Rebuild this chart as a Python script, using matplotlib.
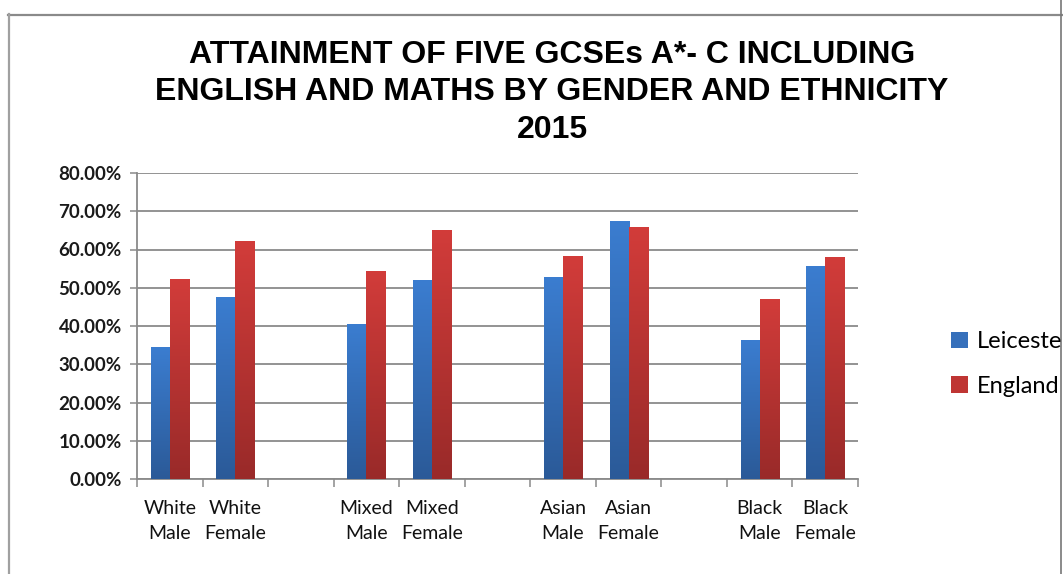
import numpy as np
import matplotlib.pyplot as plt
from matplotlib import font_manager
from matplotlib.colors import LinearSegmentedColormap
from matplotlib.lines import Line2D
from matplotlib.patches import Patch

# Chart data
groups = ["White\nMale", "White\nFemale", "Mixed\nMale", "Mixed\nFemale",
          "Asian\nMale", "Asian\nFemale", "Black\nMale", "Black\nFemale"]
slots = [0, 1, 3, 4, 6, 7, 9, 10]   # empty slot between ethnic groups
leicester = [0.345, 0.475, 0.405, 0.520, 0.527, 0.674, 0.363, 0.558]
england = [0.524, 0.621, 0.544, 0.651, 0.582, 0.660, 0.470, 0.581]
series_names = ["Leicester", "England"]

W, H = 1063, 574
available = {f.name for f in font_manager.fontManager.ttflist}
TITLE_FONT = ["Liberation Sans Narrow", "Liberation Sans", "DejaVu Sans"]
TITLE_FONT = [f for f in TITLE_FONT if f in available] or ["DejaVu Sans"]
BODY_FONT = "Lato"
GRID = "#8a8a8a"

fig = plt.figure(figsize=(W / 100, H / 100), dpi=100)
ax = fig.add_axes([137 / W, 1 - 479 / H, (858 - 137) / W, (479 - 173) / H])

bar_w = 0.29
x = np.array(slots, dtype=float)
blue_cm = LinearSegmentedColormap.from_list("b", ["#2b5a98", "#3b7dd0"])
red_cm = LinearSegmentedColormap.from_list("r", ["#992a29", "#d23c3a"])
grad = np.linspace(0, 1, 256).reshape(-1, 1)

for vals, offset, cm, base in [(leicester, -bar_w / 2, blue_cm, "#3670bb"),
                               (england, bar_w / 2, red_cm, "#bf3533")]:
    bars = ax.bar(x + offset, vals, width=bar_w, color=base, zorder=3)
    for b in bars:
        x0 = b.get_x()
        im = ax.imshow(grad, cmap=cm, origin="lower", aspect="auto", zorder=4,
                       extent=[x0, x0 + b.get_width(), 0, b.get_height()])
        im.set_clip_path(b)

ax.set_xlim(-0.5, 10.5)
ax.set_ylim(0, 0.8)

# y axis: percent ticks and horizontal gridlines
ax.set_yticks(np.arange(0, 0.81, 0.1))
ax.set_yticklabels([f"{v:.2%}" for v in np.arange(0, 0.81, 0.1)],
                   fontfamily=BODY_FONT, fontweight="bold", fontsize=13.5,
                   color="#1a1a1a")
ax.tick_params(axis="y", direction="out", length=5, width=1.1, color=GRID, pad=6)
ax.grid(axis="y", color=GRID, linewidth=1.3, zorder=0)

# x axis: boundary ticks plus category labels centred on each pair
ax.set_xticks(np.arange(-0.5, 10.6, 1))
ax.set_xticklabels([])
ax.tick_params(axis="x", which="major", direction="out", length=6, width=1.1,
               color=GRID)
ax.set_xticks(x, minor=True)
ax.set_xticklabels(groups, minor=True, fontfamily=BODY_FONT, fontsize=14,
                   linespacing=1.6, color="#111111")
ax.tick_params(axis="x", which="minor", length=0, pad=15)

for side in ["top", "right"]:
    ax.spines[side].set_visible(False)
for side in ["left", "bottom"]:
    ax.spines[side].set_color(GRID)
    ax.spines[side].set_linewidth(1.3)

fig.text(552 / W, 1 - 40 / H,
         "ATTAINMENT OF FIVE GCSEs A*- C INCLUDING\n"
         "ENGLISH AND MATHS BY GENDER AND ETHNICITY\n2015",
         ha="center", va="top", family=TITLE_FONT, fontweight="bold",
         fontsize=23, linespacing=1.32, color="black")

handles = [Patch(facecolor="#3670bb"), Patch(facecolor="#bf3533")]
fig.legend(handles, series_names, loc="center left",
           bbox_to_anchor=(930 / W, 1 - 364 / H), frameon=False,
           prop={"family": BODY_FONT, "size": 17}, handlelength=0.7,
           handleheight=0.7, handletextpad=0.4, labelspacing=1.0)

# chart frame edges
fig.add_artist(Line2D([8 / W, 1], [1 - 14.5 / H] * 2, color="#8a8a8a", lw=1.6,
                      transform=fig.transFigure))
fig.add_artist(Line2D([8.5 / W] * 2, [0, 1 - 14 / H], color="#a0a0a0", lw=1.6,
                      transform=fig.transFigure))
fig.add_artist(Line2D([1060.5 / W] * 2, [0, 1], color="#777777", lw=1.2,
                      transform=fig.transFigure))

fig.savefig("out.png", dpi=100)
